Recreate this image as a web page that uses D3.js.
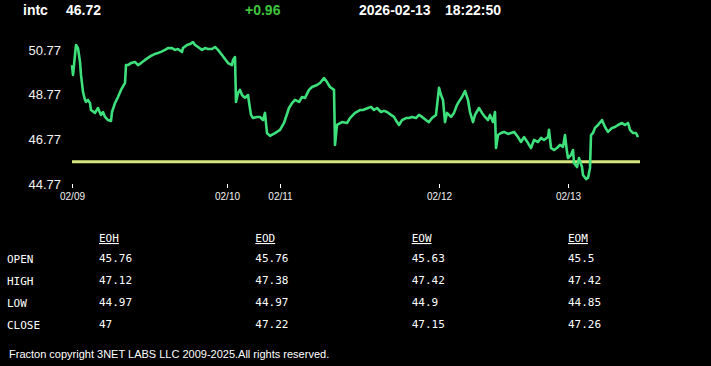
<!DOCTYPE html>
<html>
<head>
<meta charset="utf-8">
<script src="https://cdn.jsdelivr.net/npm/d3@7"></script>
<style>
    body { margin: 0; background: #000; }
    svg { display: block; }
</style>
</head>
<body>
<div class="quote-chart"></div>
<script>
// Header values
const symbol = 'intc';
const lastPrice = '46.72';
const change = '+0.96';
const stamp = ['2026-02-13', '18:22:50'];

// Price series: bar index (session position) and price
const barIndex = [
    0, 1, 3, 4, 6, 8, 9, 11, 13, 14, 16, 18, 19, 23, 26, 28, 29, 31, 33, 36,
    39, 40, 43, 46, 49, 53, 54, 56, 59, 63, 66, 69, 73, 76, 79, 83, 86, 89, 93, 96,
    100, 103, 106, 110, 111, 115, 118, 121, 123, 126, 130, 133, 136, 140, 143, 146, 150, 153, 156, 160,
    161, 163, 164, 166, 168, 170, 173, 176, 177, 179, 181, 185, 188, 191, 193, 195, 198, 203, 208, 212,
    217, 220, 223, 227, 230, 233, 237, 240, 245, 248, 252, 255, 258, 262, 263, 265, 270, 275, 278, 283,
    288, 291, 296, 299, 302, 305, 309, 312, 315, 319, 322, 325, 327, 330, 334, 337, 340, 344, 347, 350,
    354, 357, 360, 364, 367, 369, 371, 373, 375, 379, 382, 385, 388, 390, 393, 396, 398, 401, 403, 407,
    410, 413, 416, 418, 421, 422, 423, 424, 426, 429, 432, 436, 439, 442, 446, 449, 452, 456, 459, 462,
    466, 469, 472, 476, 477, 479, 482, 485, 488, 491, 493, 495, 496, 499, 501, 502, 505, 507, 510, 511,
    514, 516, 518, 519, 521, 523, 526, 530, 533, 536, 540, 543, 546, 550, 553, 556, 558, 561, 564, 566
];
const price = [
    50.09, 49.65, 50.54, 50.99, 50.85, 50.23, 49.65, 48.89, 48.53, 48.44, 48.53, 48.39, 48.08, 47.95, 48.17, 47.95, 47.86, 47.99, 47.77, 47.63,
    47.59, 47.99, 48.39, 48.66, 48.98, 49.29, 50.09, 50.09, 50.18, 50.23, 50.09, 50.18, 50.32, 50.41, 50.50, 50.59, 50.63, 50.68, 50.77, 50.85,
    50.85, 50.77, 50.81, 50.68, 50.85, 50.99, 51.03, 51.12, 50.99, 50.90, 50.77, 50.85, 50.81, 50.81, 50.90, 50.77, 50.54, 50.36, 50.18, 50.09,
    50.32, 50.45, 48.44, 48.84, 48.98, 48.75, 48.62, 48.75, 48.44, 47.86, 47.72, 47.77, 47.77, 47.63, 47.95, 47.05, 46.92, 47.05, 47.19, 47.50,
    48.17, 48.39, 48.53, 48.44, 48.66, 48.62, 48.98, 49.11, 49.20, 49.29, 49.51, 49.33, 49.11, 48.98, 46.52, 47.41, 47.54, 47.50, 47.72, 47.95,
    48.08, 48.08, 48.17, 48.22, 48.08, 48.17, 47.99, 48.04, 47.99, 47.86, 47.77, 47.54, 47.41, 47.63, 47.72, 47.72, 47.77, 47.72, 47.86, 47.77,
    47.63, 47.54, 47.72, 47.86, 49.07, 48.75, 48.53, 47.54, 47.95, 47.77, 47.95, 48.31, 48.53, 48.66, 48.93, 48.53, 47.99, 47.54, 47.86, 48.17,
    47.95, 47.77, 47.63, 47.86, 47.54, 47.77, 47.99, 46.38, 46.96, 47.05, 47.10, 47.01, 47.05, 47.10, 46.87, 46.65, 46.87, 46.60, 46.38, 46.74,
    46.65, 46.83, 46.74, 46.87, 47.19, 46.38, 46.29, 46.38, 46.52, 46.43, 46.96, 46.20, 45.93, 46.07, 46.29, 45.71, 45.53, 45.93, 45.53, 45.17,
    44.99, 45.04, 45.49, 46.96, 47.05, 47.28, 47.41, 47.63, 47.32, 47.10, 47.28, 47.32, 47.41, 47.50, 47.41, 47.50, 47.19, 47.05, 47.05, 46.87
];
const referencePrice = 45.76;   // session open, drawn as the flat line

// Axis ticks
const yTicks = [44.77, 46.77, 48.77, 50.77];
const dayLabels = ['02/09', '02/10', '02/11', '02/12', '02/13'];
const dayIndex = [0, 155, 208, 367, 496];

// Summary table
const periods = ['EOH', 'EOD', 'EOW', 'EOM'];
const rowNames = ['OPEN', 'HIGH', 'LOW', 'CLOSE'];
const openVals = ['45.76', '45.76', '45.63', '45.5'];
const highVals = ['47.12', '47.38', '47.42', '47.42'];
const lowVals = ['44.97', '44.97', '44.9', '44.85'];
const closeVals = ['47', '47.22', '47.15', '47.26'];

const footer = 'Fracton copyright 3NET LABS LLC 2009-2025.All rights reserved.';

function ready(){
    const width = 711;
    const height = 366;
    const sans = '"Liberation Sans", Arial, sans-serif';
    const mono = '"DejaVu Sans Mono", monospace';

    const svg = d3.select('.quote-chart')
        .append('svg')
        .attr('width', width)
        .attr('height', height)
        .style('background', '#000');

    // Header
    const header = svg.append('g')
        .attr('class', 'header')
        .style('font-family', sans)
        .style('font-size', '14px')
        .style('font-weight', 'bold');

    header.append('text').attr('x', 23).attr('y', 15).attr('fill', '#fff').text(symbol);
    header.append('text').attr('x', 66).attr('y', 15).attr('fill', '#fff').text(lastPrice);
    header.append('text').attr('x', 245).attr('y', 15).attr('fill', '#3fc43f').text(change);
    header.append('text').attr('x', 359).attr('y', 15).attr('fill', '#fff').text(stamp[0]);
    header.append('text').attr('x', 445).attr('y', 15).attr('fill', '#fff').text(stamp[1]);

    // Scales
    const xScale = d3.scaleLinear()
        .domain([0, 567])
        .range([72, 639]);

    const yScale = d3.scaleLinear()
        .domain([44.77, 51.48])
        .range([184, 34]);

    // Reference line
    svg.append('line')
        .attr('x1', xScale(0))
        .attr('x2', xScale(568))
        .attr('y1', yScale(referencePrice))
        .attr('y2', yScale(referencePrice))
        .attr('stroke', '#d6e67c')
        .attr('stroke-width', 3);

    // Price line
    const series = barIndex.map((d, i) => ({i: d, v: price[i]}));
    const line = d3.line()
        .x(d => xScale(d.i))
        .y(d => yScale(d.v));

    svg.append('path')
        .datum(series)
        .attr('d', line)
        .attr('fill', 'none')
        .attr('stroke', '#3ee07c')
        .attr('stroke-width', 2.6)
        .attr('stroke-linejoin', 'round');

    // Y axis (labels only)
    const yAxis = d3.axisLeft(yScale)
        .tickValues(yTicks)
        .tickFormat(d3.format('.2f'))
        .tickSize(0)
        .tickPadding(0);

    const yAxisDraw = svg.append('g')
        .attr('class', 'y axis')
        .attr('transform', 'translate(61, 0)')
        .call(yAxis);

    yAxisDraw.select('.domain').remove();
    yAxisDraw.selectAll('text')
        .style('font-family', sans)
        .style('font-size', '13px')
        .attr('fill', '#f2f2f2');

    // X axis (day marks)
    const xAxis = d3.axisBottom(xScale)
        .tickValues(dayIndex)
        .tickFormat((d, i) => dayLabels[i])
        .tickSize(4)
        .tickPadding(5);

    const xAxisDraw = svg.append('g')
        .attr('class', 'x axis')
        .attr('transform', 'translate(0, 184)')
        .call(xAxis);

    xAxisDraw.select('.domain').remove();
    xAxisDraw.selectAll('line').attr('stroke', '#fff');
    xAxisDraw.selectAll('text')
        .style('font-family', sans)
        .style('font-size', '10px')
        .attr('fill', '#f2f2f2');

    // Summary table
    const colX = d3.scalePoint()
        .domain(periods)
        .range([99, 568]);

    const rowY = d3.scalePoint()
        .domain(rowNames)
        .range([263, 329]);

    const table = svg.append('g')
        .attr('class', 'summary')
        .style('font-family', mono)
        .style('font-size', '11px')
        .attr('fill', '#fff');

    table.selectAll('.col-head')
        .data(periods)
        .enter()
        .append('text')
        .attr('class', 'col-head')
        .attr('x', d => colX(d))
        .attr('y', 242)
        .attr('text-decoration', 'underline')
        .text(d => d);

    table.selectAll('.row-name')
        .data(rowNames)
        .enter()
        .append('text')
        .attr('class', 'row-name')
        .attr('x', 7)
        .attr('y', d => rowY(d))
        .text(d => d);

    const rows = [openVals, highVals, lowVals, closeVals];
    rows.forEach((vals, r) => {
        table.selectAll(`.cell-${r}`)
            .data(vals)
            .enter()
            .append('text')
            .attr('class', `cell-${r}`)
            .attr('x', (d, i) => colX(periods[i]))
            .attr('y', rowY(rowNames[r]) - 1)
            .text(d => d);
    });

    // Footer
    svg.append('text')
        .attr('x', 9)
        .attr('y', 358)
        .style('font-family', sans)
        .style('font-size', '11px')
        .attr('fill', '#fff')
        .text(footer);
}

ready();
</script>
</body>
</html>
